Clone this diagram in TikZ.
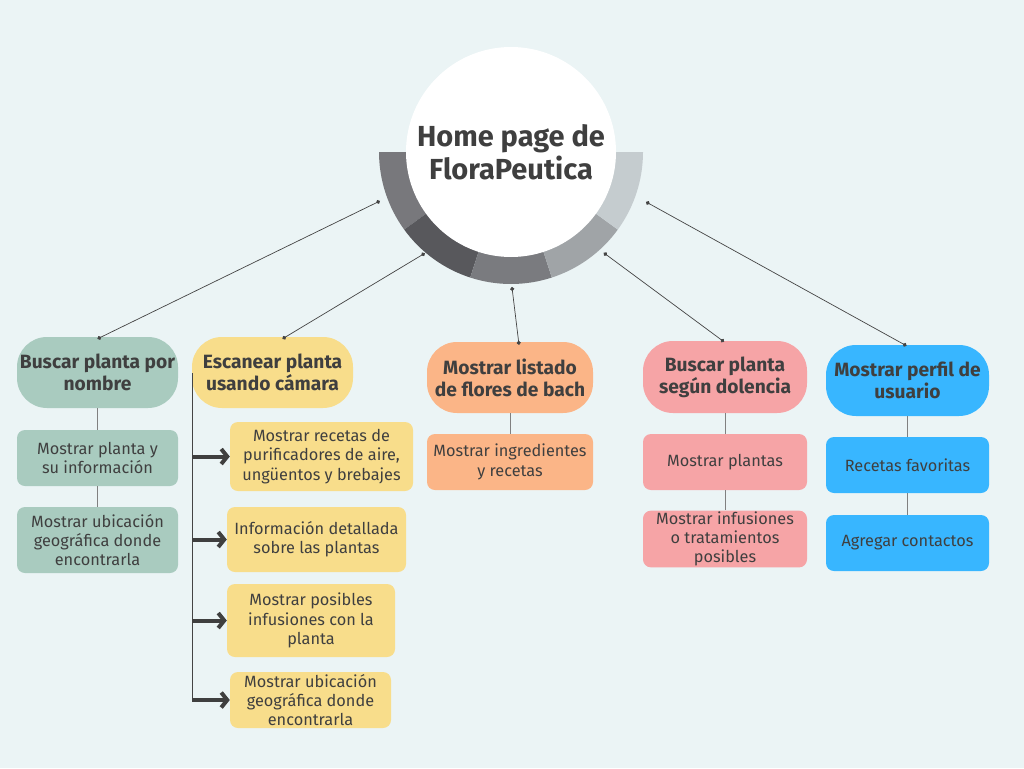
\documentclass[tikz,border=0pt]{standalone}
\usepackage{fontspec}
\setmainfont{Fira Sans}
\usepackage{xcolor}
\usetikzlibrary{arrows.meta}
\definecolor{bgcol}{HTML}{EBF4F5}
\definecolor{txtgray}{HTML}{3F3F3F}
\definecolor{linegray}{HTML}{444444}
\definecolor{sage}{HTML}{A9CBBF}
\definecolor{sand}{HTML}{F8DD8B}
\definecolor{peach}{HTML}{FBB587}
\definecolor{rose}{HTML}{F6A4A6}
\definecolor{sky}{HTML}{38B6FF}
\definecolor{ringa}{HTML}{78787C}
\definecolor{ringb}{HTML}{58585C}
\definecolor{ringc}{HTML}{7A7B7F}
\definecolor{ringd}{HTML}{A0A4A7}
\definecolor{ringe}{HTML}{C5CCCF}
\tikzset{%
    mainbox/.style={%
        fill=#1, rounded corners=30pt, minimum width=161pt, minimum height=71pt,
        align=center, text=txtgray, inner sep=1pt,
        font=\fontsize{19.2}{22}\selectfont\bfseries},
    subbox/.style={%
        fill=#1, rounded corners=8pt, minimum width=161pt, minimum height=56pt,
        align=center, text=txtgray, inner sep=1pt,
        font=\fontsize{16.3}{19.3}\selectfont},
    link/.style={draw=linegray, line width=0.7pt, {Circle[length=4pt]}-{Circle[length=4pt]}},
    vline/.style={draw=gray, line width=0.8pt},
    fatarrow/.style={draw=txtgray, line width=4pt, -{Straight Barb[length=6pt,width=15pt]}}
}

\begin{document}
\begin{tikzpicture}[x=1pt,y=-1pt]
    \fill[bgcol] (0,0) rectangle (1024,768);
    \useasboundingbox (0,0) rectangle (1024,768);
    % ring under the title
    \foreach \a/\c in {144/ringa,108/ringb,72/ringc,36/ringd,0/ringe}
        \fill[\c,shift={(511,152)}] (\a:132) arc[start angle=\a, delta angle=36, radius=132]
            -- ({\a+36}:100) arc[start angle=\a+36, delta angle=-36, radius=100] -- cycle;
    \node[circle,fill=white,minimum size=210pt,align=center,text=txtgray,
          font=\fontsize{29}{33}\selectfont\bfseries] (home) at (511,152) {Home page de\\FloraPeutica};
    \coordinate (r1) at ([shift={(159.5:140)}]home.center);
    \coordinate (r2) at ([shift={(130.4:133)}]home.center);
    \coordinate (r3) at ([shift={(89.6:135)}]home.center);
    \coordinate (r4) at ([shift={(47.4:137)}]home.center);
    \coordinate (r5) at ([shift={(20.3:144)}]home.center);

    % main branches
    \node[mainbox=sage] (name) at (97.5,372.5) {Buscar planta por\\nombre};
    \node[mainbox=sand] (scan) at (272.5,372.5) {Escanear planta\\usando cámara};
    \node[mainbox=peach,minimum width=166pt] (bach) at (510,377.5) {Mostrar listado\\de flores de bach};
    \node[mainbox=rose,minimum width=164pt,minimum height=72pt] (dolor) at (725,377) {Buscar planta\\según dolencia};
    \node[mainbox=sky,minimum width=163pt] (perfil) at (907.5,380.5) {Mostrar perfil de\\usuario};

    \draw[link] (r1) -- ([yshift=-2pt]name.north);
    \draw[link] (r2) -- ([xshift=10pt,yshift=-2pt]scan.north);
    \draw[link] (r3) -- ([xshift=9pt,yshift=-3pt]bach.north);
    \draw[link] (r4) -- ([xshift=-1pt,yshift=-1pt]dolor.north);
    \draw[link] (r5) -- ([xshift=-1pt,yshift=-1pt]perfil.north);

    % green column
    \node[subbox=sage] (nameinfo) at (97.5,458) {Mostrar planta y\\su información};
    \node[subbox=sage,minimum height=66pt] (nameubic) at (97.5,540) {Mostrar ubicación\\geográfica donde\\encontrarla};
    \draw[vline] (name) -- (nameinfo);
    \draw[vline] (nameinfo) -- (nameubic);

    % yellow column
    \node[subbox=sand,minimum width=183pt,minimum height=69pt] (scanrec) at (321.5,456.5) {Mostrar recetas de\\purificadores de aire,\\ungüentos y brebajes};
    \node[subbox=sand,minimum width=179pt,minimum height=65pt] (scaninfo) at (316.5,539.5) {Información detallada\\sobre las plantas};
    \node[subbox=sand,minimum width=168pt,minimum height=73pt] (scaninf) at (311,620.5) {Mostrar posibles\\infusiones con la\\planta};
    \node[subbox=sand,minimum height=56pt] (scanubic) at (310.5,700) {Mostrar ubicación\\geográfica donde\\encontrarla};
    \coordinate (ttop) at (192,373);
    \coordinate (tbot) at (192,702);
    \draw[vline,draw=linegray] (ttop) -- (tbot);
    \draw[fatarrow] (ttop |- scanrec.west) -- (scanrec.west);
    \draw[fatarrow] (ttop |- scaninfo.west) -- (scaninfo.west);
    \draw[fatarrow] (ttop |- scaninf.west) -- (scaninf.west);
    \draw[fatarrow] (ttop |- scanubic.west) -- (scanubic.west);

    % orange column
    \node[subbox=peach,minimum width=166pt] (bachingr) at (510,462) {Mostrar ingredientes\\y recetas};
    \draw[vline] (bach) -- (bachingr);

    % pink column
    \node[subbox=rose,minimum width=164pt] (dolorpl) at (725,462) {Mostrar plantas};
    \node[subbox=rose,minimum width=164pt] (dolorinf) at (725,539) {Mostrar infusiones\\o tratamientos\\posibles};
    \draw[vline] (dolor) -- (dolorpl);
    \draw[vline] (dolorpl) -- (dolorinf);

    % blue column
    \node[subbox=sky,minimum width=163pt] (perfilfav) at (907.5,465) {Recetas favoritas};
    \node[subbox=sky,minimum width=163pt] (perfilcont) at (907.5,543) {Agregar contactos};
    \draw[vline] (perfil) -- (perfilfav);
    \draw[vline] (perfilfav) -- (perfilcont);
\end{tikzpicture}
\end{document}
